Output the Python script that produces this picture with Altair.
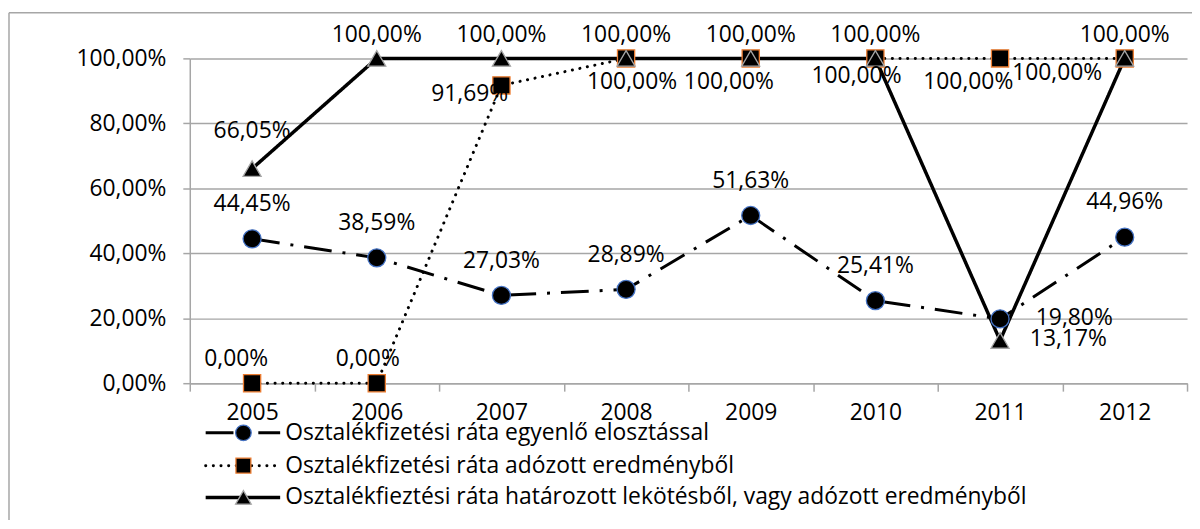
import altair as alt
import pandas as pd

# ---------------- data ----------------
years = ["2005", "2006", "2007", "2008", "2009", "2010", "2011", "2012"]
series_names = [
    "Osztalékfizetési ráta egyenlő elosztással",
    "Osztalékfizetési ráta adózott eredményből",
    "Osztalékfieztési ráta határozott lekötésből, vagy adózott eredményből",
]
rate_equal = [44.45, 38.59, 27.03, 28.89, 51.63, 25.41, 19.80, 44.96]
rate_after_tax = [0.00, 0.00, 91.69, 100.00, 100.00, 100.00, 100.00, 100.00]
rate_fixed = [66.05, 100.00, 100.00, 100.00, 100.00, 100.00, 13.17, 100.00]
y_ticks = [0.0, 0.2, 0.4, 0.6, 0.8, 1.0]

# data-label nudges (pixels), like Excel's manually placed labels
label_dx = [
    [0, 0, 0, 0, 0, 0, 36, 0],
    [-16, -9, -32, 6, -22, -19, -32, -68],
    [0, 0, 0, 0, 0, 0, 30, 0],
]
label_dy = [
    [-35, -35, -35, -35, -35, -35, -1, -35],
    [-24, -24, 9, 24, 24, 18, 24, 15],
    [-38, -24, -24, -24, -24, -24, -1, -24],
]
label_align = [
    ["center"] * 6 + ["left", "center"],
    ["center"] * 8,
    ["center"] * 6 + ["left", "center"],
]

FONT = "Open Sans"
FS = 23
GRID = "#a6a6a6"
values = [rate_equal, rate_after_tax, rate_fixed]

rows = []
for s, vals in enumerate(values):
    for i, y in enumerate(years):
        rows.append({"year": y, "series": series_names[s], "value": vals[i] / 100.0,
                     "s": s, "i": i})
df = pd.DataFrame(rows)

pct_expr = "replace(format(datum.value, '.2%'), '.', ',')"

X = alt.X("year:O", sort=years, title=None,
          scale=alt.Scale(paddingInner=0, paddingOuter=0),
          axis=alt.Axis(tickBand="extent", grid=False, domainColor=GRID, domainWidth=1.5,
                        tickColor=GRID, tickWidth=1.5, tickSize=8, labelAngle=0,
                        labelFont=FONT, labelFontSize=FS, labelColor="black",
                        labelPadding=11))
Y = alt.Y("value:Q", title=None, scale=alt.Scale(domain=[0, 1], nice=False, zero=True),
          axis=alt.Axis(values=y_ticks, labelExpr=pct_expr, grid=True, gridColor=GRID,
                        gridWidth=1.5, domainColor=GRID, domainWidth=1.5, tickColor=GRID,
                        tickWidth=1.5, tickSize=7, labelFont=FONT, labelFontSize=FS,
                        labelColor="black", labelPadding=17))

styles = [
    dict(dash=[28, 11, 3, 11], width=3, cap="butt", shape="circle", size=330, stroke="#4472c4"),
    dict(dash=[0.1, 7.6], width=3, cap="round", shape="square", size=300, stroke="#ed7d31"),
    dict(dash=[1, 0], width=3.5, cap="butt", shape="triangle-up", size=330, stroke="#a5a5a5"),
]

layers = []

# outer chart border (top and left edges; the rest is cropped in the reference)
bd = pd.DataFrame({"b": [0]})
layers.append(alt.Chart(bd).mark_rule(color=GRID, strokeWidth=1.5).encode(
    x=alt.value(-182), x2=alt.value(1100), y=alt.value(-46)))
layers.append(alt.Chart(bd).mark_rule(color=GRID, strokeWidth=1.5).encode(
    x=alt.value(-182), y=alt.value(-46), y2=alt.value(600)))

for s in range(3):
    st = styles[s]
    sub = df[df.s == s]
    line = alt.Chart(sub).mark_line(color="black", strokeWidth=st["width"],
                                    strokeDash=st["dash"], strokeCap=st["cap"]).encode(x=X, y=Y)
    layers.append(line)
for s in range(3):
    st = styles[s]
    sub = df[df.s == s]
    pts = alt.Chart(sub).mark_point(filled=True, shape=st["shape"], size=st["size"],
                                    fill="black", stroke=st["stroke"], strokeWidth=1.3,
                                    opacity=1).encode(x=X, y=Y)
    layers.append(pts)

# data labels
groups = {}
for s in range(3):
    for i in range(len(years)):
        key = (label_dx[s][i], label_dy[s][i], label_align[s][i])
        groups.setdefault(key, []).append((s, i))
for (dx, dy, al), members in groups.items():
    sub = pd.concat([df[(df.s == s) & (df.i == i)] for s, i in members])
    txt = alt.Chart(sub).transform_calculate(txt=pct_expr).mark_text(
        font=FONT, fontSize=FS, color="black", dx=dx, dy=dy, align=al, baseline="middle"
    ).encode(x=X, y=Y, text="txt:N")
    layers.append(txt)

# legend (drawn manually, Excel style)
leg_y = [377, 410, 442]
for s in range(3):
    st = styles[s]
    d = pd.DataFrame({"label": [series_names[s]]})
    layers.append(alt.Chart(d).mark_rule(color="black", strokeWidth=st["width"],
                                         strokeDash=st["dash"], strokeCap=st["cap"]).encode(
        x=alt.value(16), x2=alt.value(91), y=alt.value(leg_y[s])))
    layers.append(alt.Chart(d).mark_point(filled=True, shape=st["shape"], size=st["size"] * 0.75,
                                          fill="black", stroke=st["stroke"], strokeWidth=1.3,
                                          opacity=1).encode(
        x=alt.value(54), y=alt.value(leg_y[s])))
    layers.append(alt.Chart(d).mark_text(font=FONT, fontSize=FS, color="black", align="left",
                                         baseline="middle").encode(
        x=alt.value(96), y=alt.value(leg_y[s]), text="label:N"))

chart = alt.layer(*layers).properties(
    width=1004, height=327,
    autosize=alt.AutoSizeParams(type="none"),
    padding={"left": 183, "top": 49, "right": 5, "bottom": 136},
    background="white",
).configure_view(stroke=None)

chart.save("out.html", embed_options={"renderer": "svg", "actions": False})
